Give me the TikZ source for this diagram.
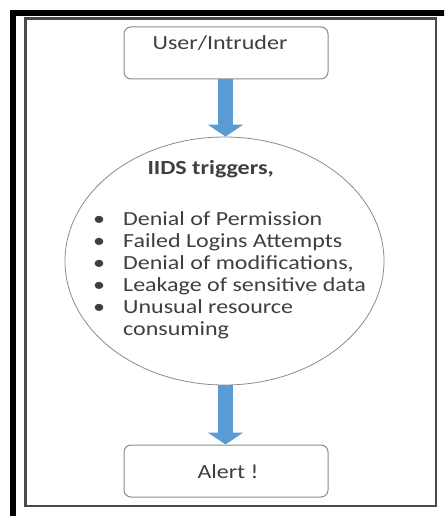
\documentclass[tikz,border=0pt]{standalone}
\usepackage{fontspec}
\setmainfont{Carlito}[FakeStretch=1.2]
\usetikzlibrary{arrows.meta,shapes.geometric}
\definecolor{flowblue}{HTML}{5B9BD5}
\definecolor{inktext}{HTML}{3F3F3F}
\definecolor{boxline}{HTML}{8C8C8C}
\definecolor{framegray}{HTML}{4A4A4A}
\begin{document}
\begin{tikzpicture}[x=1pt,y=-1pt,
  every node/.style={font=\fontsize{20}{22}\selectfont, text=inktext},
  flowbox/.style={draw=boxline, line width=1pt, rounded corners=7pt, fill=white},
  flowarrow/.style={draw=flowblue, line width=15pt,
    -{Triangle[width=35pt,length=12pt,fill=flowblue]}}]
\useasboundingbox (0,0) rectangle (444,516);
\clip (0,0) rectangle (444,516);
\fill[white] (0,0) rectangle (444,516);
% outer heavy frame (runs past the page) and inner frame
\draw[black, line width=6pt] (13,13.5) -- (13,600);
\draw[black, line width=6pt] (10,13.5) -- (600,13.5);
\draw[framegray, line width=2.5pt] (25.5,18.5) rectangle (436,506);
% process boxes
\node[flowbox, minimum width=204pt, minimum height=52pt] (user) at (226,53) {};
\node[anchor=base] (usertext) at (220,50) {User/Intruder};
\node[draw=boxline, line width=0.8pt, ellipse, minimum width=319pt, minimum height=248pt, inner sep=0pt] (iids) at (224.5,261) {};
\node[flowbox, minimum width=204pt, minimum height=52pt] (alert) at (226,471) {};
\node[anchor=base] (alerttext) at (228,478) {Alert !};
% ellipse content
\node[anchor=base west, font=\bfseries\fontsize{20}{22}\selectfont] (title) at (144,174) {IIDS triggers,};
\node[anchor=base west, inner sep=0pt] (list) at (93,225) {%
  \begin{tabular}[t]{@{}p{30pt}@{}l@{}}
  \textbullet & Denial of Permission\\
  \textbullet & Failed Logins Attempts\\
  \textbullet & Denial of modifications,\\
  \textbullet & Leakage of sensitive data\\
  \textbullet & Unusual resource\\
   & consuming
  \end{tabular}};
% connectors
\draw[flowarrow] (user.south -| 225.5,0) -- (iids.north -| 225.5,0);
\draw[flowarrow] (iids.south -| 225.5,0) -- (alert.north -| 225.5,0);
\end{tikzpicture}
\end{document}
